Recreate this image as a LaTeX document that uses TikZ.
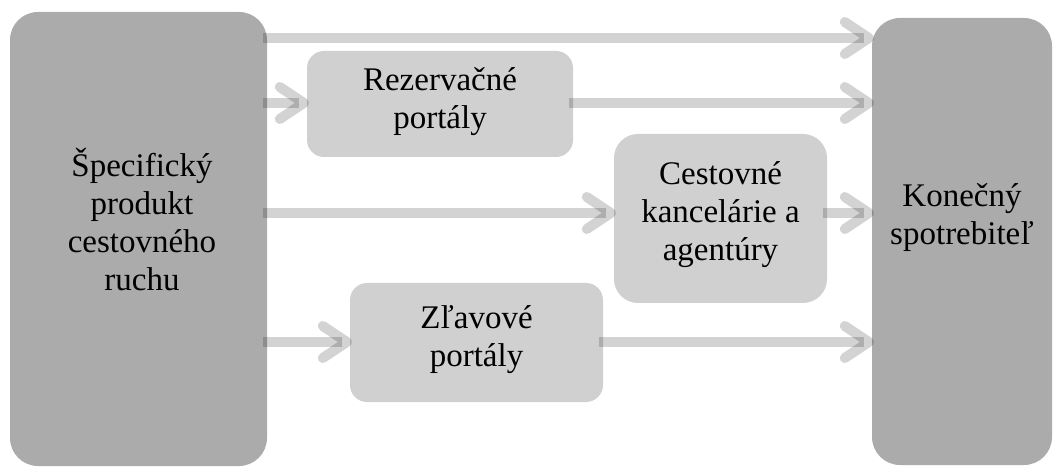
\documentclass[tikz,border=0pt]{standalone}
\usepackage{fontspec}
\setmainfont{Liberation Serif}
\usetikzlibrary{arrows.meta}
\definecolor{darkbox}{HTML}{ABABAB}
\definecolor{lightbox}{HTML}{D0D0D0}
\definecolor{arrowgray}{HTML}{D3D3D3}
\begin{document}
\begin{tikzpicture}[x=1pt,y=-1pt,
  boxshape/.style={rounded corners=#1, inner sep=0pt, draw=none},
  bigbox/.style={boxshape=28pt, fill=darkbox},
  smallbox/.style={boxshape=17pt, fill=lightbox},
  txt/.style={align=center, inner sep=0pt, text=black, font=\fontsize{33}{38}\selectfont},
  arr/.style={draw=arrowgray, line width=10pt, line cap=butt, blend mode=multiply,
    shorten <=-4pt, shorten >=-2pt,
    -{Straight Barb[length=24pt,width=32pt,line cap=round,line join=round]}}]
\useasboundingbox (0,0) rectangle (1055,470);
% boxes
\node[bigbox, minimum width=257pt, minimum height=454pt] (L) at (138.5,239) {};
\node[bigbox, minimum width=180pt, minimum height=447pt] (R) at (962,241.5) {};
\node[smallbox, minimum width=266pt, minimum height=106pt] (Rz) at (440,104) {};
\node[smallbox, boxshape=24pt, minimum width=213pt, minimum height=169pt] (C) at (720.5,218.5) {};
\node[smallbox, minimum width=253pt, minimum height=119pt] (Z) at (476.5,342.5) {};
% texts
\node[txt] (Lt) at (142,219) {Špecifický\\produkt\\cestovného\\ruchu};
\node[txt] (Rt) at (962,218) {Konečný\\spotrebiteľ};
\node[txt] (Rzt) at (440,102) {Rezervačné\\portály};
\node[txt] (Ct) at (720.5,215) {Cestovné\\kancelárie a\\agentúry};
\node[txt] (Zt) at (476.5,340) {Zľavové\\portály};
% arrows
\draw[arr] (L.east |- 0,38) -- (R.west |- 0,38);
\draw[arr] (L.east |- 0,103) -- (Rz.west |- 0,103);
\draw[arr] (Rz.east |- 0,103) -- (R.west |- 0,103);
\draw[arr] (L.east |- 0,213) -- (C.west |- 0,213);
\draw[arr] (C.east |- 0,213) -- (R.west |- 0,213);
\draw[arr] (L.east |- 0,342) -- (Z.west |- 0,342);
\draw[arr] (Z.east |- 0,342) -- (R.west |- 0,342);
\end{tikzpicture}
\end{document}
